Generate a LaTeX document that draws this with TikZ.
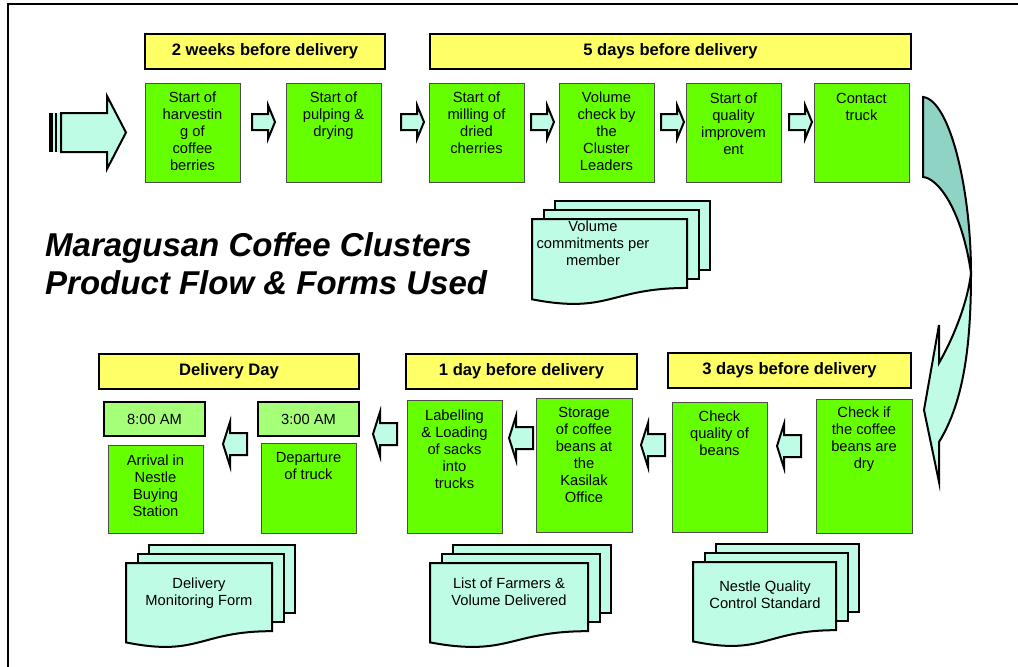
\documentclass[tikz,border=0pt]{standalone}
\usepackage{fontspec}
\setmainfont{Liberation Sans}
\usetikzlibrary{calc}

\definecolor{boxgreen}{HTML}{66FF00}
\definecolor{hdryellow}{HTML}{FFFF66}
\definecolor{timegreen}{HTML}{A6FF78}
\definecolor{aqua}{HTML}{BFFCE6}
\definecolor{backteal}{HTML}{8FD3C4}

% fixed height for the first line of a stacked label
\newcommand\topstrut{\rule{0pt}{11pt}}

% three stacked pages: front top-left corner (#1,#2), width #3, height #4
\newcommand\docstack[4]{%
  \begin{scope}[shift={(#1,#2)}]
    \draw[doc] (23,-18) rectangle ++(#3,{0.802*#4});
    \draw[doc] (11.5,-9) rectangle ++(#3,{0.802*#4});
    \draw[doc] (0,0) -- (#3,0) -- (#3,{0.802*#4})
      .. controls ({0.5*#3},{0.802*#4}) and ({0.5*#3},{1.1075*#4}) .. (0,{0.934*#4}) -- cycle;
  \end{scope}}

\tikzset{
  gbox/.style={draw=black!70, line width=0.9pt, fill=boxgreen, inner sep=0pt, minimum width=95pt},
  hdr/.style={draw=black, line width=2pt, fill=hdryellow, inner sep=0pt, minimum height=35pt,
    font=\bfseries\fontsize{16.6}{20}\selectfont},
  tbox/.style={draw=black, line width=2pt, fill=timegreen, inner sep=0pt, minimum width=101pt,
    minimum height=34pt, font=\fontsize{14.7}{17}\selectfont},
  txt/.style={align=center, inner sep=0pt, anchor=north, font=\fontsize{14.7}{17}\selectfont,
    execute at begin node=\topstrut},
  blk/.style={draw=black, line width=2pt, fill=aqua, line join=miter},
  doc/.style={draw=black, line width=2pt, fill=aqua, line join=miter},
  rarr/.pic={\draw[blk] (0,-8) -- (16,-8) -- (16,-17) -- (23,0) -- (16,17) -- (16,8) -- (0,8) -- cycle;},
  larr/.pic={\draw[blk] (0,0) -- (7,-22) -- (7,-11) -- (24,-11) -- (24,11) -- (7,11) -- (7,22) -- cycle;},
}

\begin{document}
\begin{tikzpicture}[x=1pt,y=-1pt]
\useasboundingbox (0,0) rectangle (1018,667);
\fill[white] (0,0) rectangle (1018,667);

% frame
\draw[line width=2pt] (8,667) -- (8,4) -- (1018,4);

% title
\node[anchor=base west, inner sep=0pt, font=\bfseries\itshape\fontsize{33}{38}\selectfont]
  (title1) at (45,256) {Maragusan Coffee Clusters};
\node[anchor=base west, inner sep=0pt, font=\bfseries\itshape\fontsize{33}{38}\selectfont]
  (title2) at (45,294) {Product Flow \& Forms Used};

% ---------- upper row ----------
\node[hdr, minimum width=240pt] (h1) at (265,51.5) {2 weeks before delivery};
\node[hdr, minimum width=481pt] (h2) at (670.5,51.5) {5 days before delivery};

\foreach \n/\cx in {b1/192.5, b2/333.5, b3/476.5, b4/606.5, b5/733.5, b6/861.5}
  \node[gbox, minimum height=99pt] (\n) at (\cx,132.5) {};

\node[txt] (t1) at ($(b1.north)+(0,9.5)$) {Start of\\harvestin\\g of\\coffee\\berries};
\node[txt] (t2) at ($(b2.north)+(0,9.5)$) {Start of\\pulping \&\\drying};
\node[txt] (t3) at ($(b3.north)+(0,9)$) {Start of\\milling of\\dried\\cherries};
\node[txt] (t4) at ($(b4.north)+(0,9)$) {Volume\\check by\\the\\Cluster\\Leaders};
\node[txt] (t5) at ($(b5.north)+(0,10)$) {Start of\\quality\\improvem\\ent};
\node[txt] (t6) at ($(b6.north)+(0,10)$) {Contact\\truck};

\foreach \ax in {252,401,531,661,789}
  \pic at (\ax,122) {rarr};

% striped entry arrow
\fill[aqua] (51,113) rectangle (62,152);
\draw[line width=3.8pt] (50.6,113) -- (50.6,152);
\draw[line width=1.7pt] (55.9,113) -- (55.9,152);
\draw[blk] (61,113) -- (107,113) -- (107,96) -- (126,132.5) -- (107,169) -- (107,152) -- (61,152) -- cycle;

% form under the upper row
\docstack{532}{219}{155}{86}
\node[txt] (f1) at (593,221) {Volume\\commitments per\\member};

% curved turn-around arrow
\draw[blk, fill=backteal] (923,97) .. controls (950,100) and (971,190) .. (971,273)
  .. controls (962,210) and (938,178) .. (923,177) -- cycle;
\draw[blk] (971,273) .. controls (971,340) and (965,400) .. (939,442)
  -- (939,482) -- (924,410) -- (939,325) -- (939,363)
  .. controls (955,335) and (968,300) .. (971,273) -- cycle;

% ---------- lower row ----------
\node[hdr, minimum width=260pt] (h3) at (229,371) {Delivery Day};
\node[hdr, minimum width=231pt] (h4) at (521.5,371) {1 day before delivery};
\node[hdr, minimum width=243pt] (h5) at (789.5,370) {3 days before delivery};

\node[tbox] (k1) at (154.5,419) {8:00 AM};
\node[tbox] (k2) at (308.5,419) {3:00 AM};

\node[gbox, minimum height=88pt] (c1) at (155.5,489) {};
\node[gbox, minimum height=90pt] (c2) at (308.5,488) {};
\node[gbox, minimum height=133pt] (c3) at (454.5,466.5) {};
\node[gbox, minimum width=96pt, minimum height=134pt] (c4) at (584,465) {};
\node[gbox, minimum height=130pt] (c5) at (719.5,467) {};
\node[gbox, minimum width=96pt, minimum height=134pt] (c6) at (864,466) {};

\node[txt] (s1) at ($(c1.north)+(0,10)$) {Arrival in\\Nestle\\Buying\\Station};
\node[txt] (s2) at ($(c2.north)+(0,9.5)$) {Departure\\of truck};
\node[txt] (s3) at ($(c3.north)+(0,10)$) {Labelling\\\& Loading\\of sacks\\into\\trucks};
\node[txt] (s4) at ($(c4.north)+(0,9)$) {Storage\\of coffee\\beans at\\the\\Kasilak\\Office};
\node[txt] (s5) at ($(c5.north)+(0,9.5)$) {Check\\quality of\\beans};
\node[txt] (s6) at ($(c6.north)+(0,8.5)$) {Check if\\the coffee\\beans are\\dry};

\pic at (223,444) {larr};
\pic at (373,434) {larr};
\pic at (509,438) {larr};
\pic at (641,445) {larr};
\pic at (777,446) {larr};

% forms under the lower row
\docstack{126}{563}{146}{85}
\node[txt] (f2) at (199,578) {Delivery\\Monitoring Form};
\docstack{430}{563}{158}{85}
\node[txt] (f3) at (509,578) {List of Farmers \&\\Volume Delivered};
\docstack{693}{562}{143}{85}
\node[txt] (f4) at (765,581) {Nestle Quality\\Control Standard};
\end{tikzpicture}
\end{document}
